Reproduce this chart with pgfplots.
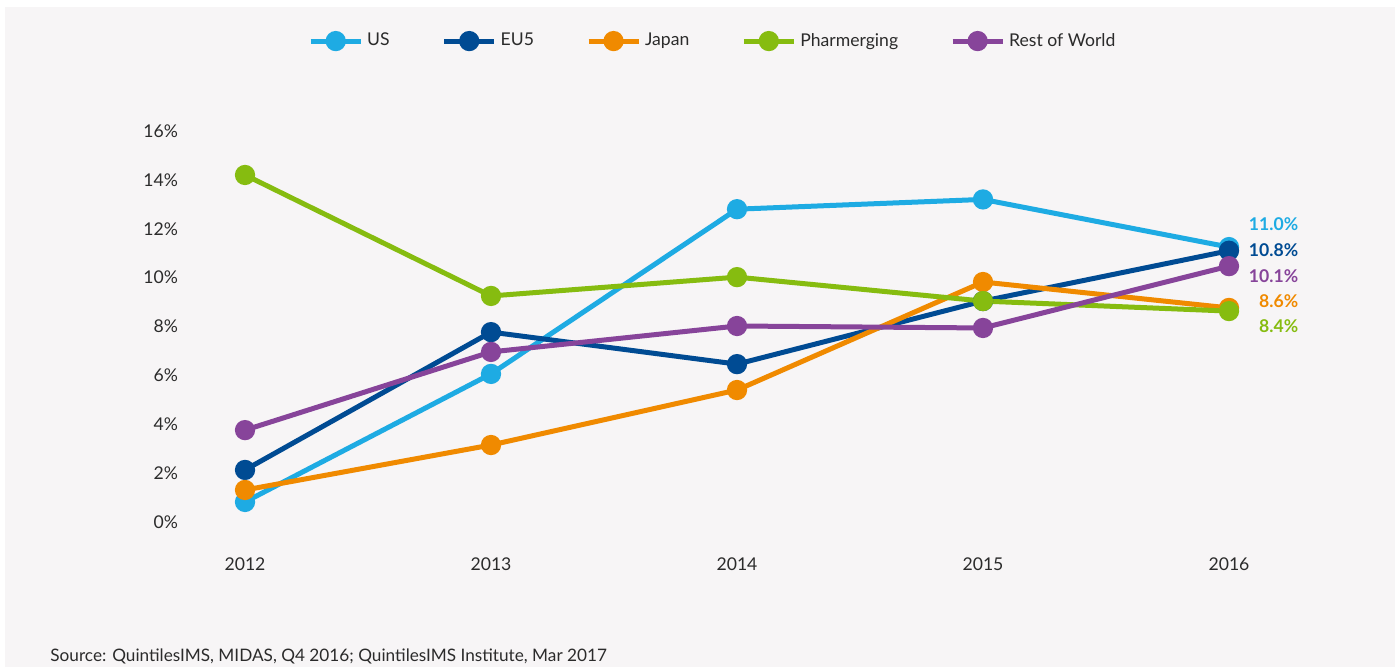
\documentclass[border=0pt]{standalone}
\usepackage{pgfplots}
\pgfplotsset{compat=1.18}
\usepackage{fontspec}
\setmainfont{Lato}
\definecolor{bg}{HTML}{F7F5F6}
\definecolor{cUS}{HTML}{1EABE3}
\definecolor{cEU}{HTML}{004B93}
\definecolor{cJP}{HTML}{F08A00}
\definecolor{cPH}{HTML}{86BC10}
\definecolor{cRW}{HTML}{87449A}
\definecolor{txt}{HTML}{2B2B2B}
\begin{document}
\begin{tikzpicture}
\path[use as bounding box] (-92.5pt,-72.5pt) rectangle (607.5pt,261pt);
\fill[bg] (-90pt,-72.5pt) rectangle (605pt,257.5pt);
\begin{axis}[
  at={(0,0)}, anchor=south west,
  scale only axis, width=552pt, height=195.5pt,
  xmin=2011.756, xmax=2016.244, ymin=0, ymax=16,
  clip=false, axis line style={draw=none},
  xtick={2012,2013,2014,2015,2016},
  ytick={0,2,4,6,8,10,12,14,16},
  xticklabel={\pgfmathprintnumber[1000 sep={}]{\tick}},
  yticklabel={\pgfmathprintnumber{\tick}\%},
  /pgf/number format/assume math mode=true,
  xticklabel style={yshift=-14.5pt, font=\fontsize{8.8}{10}\selectfont, text=txt},
  yticklabel style={font=\fontsize{8.8}{10}\selectfont, text=txt},
  major tick length=0pt, tick style={draw=none},
  every axis plot/.append style={line width=2.5pt, mark=*, mark size=3.8pt},
  legend columns=5,
  legend style={at={(0.479,1.23)}, anchor=center, draw=none, fill=none,
    font=\fontsize{8.8}{10}\selectfont, text=txt,
    /tikz/every even column/.append style={column sep=24pt}},
  legend cell align=left,
  legend image code/.code={\draw[mark repeat=2, mark phase=2, #1] plot coordinates {(0pt,0pt) (12.5pt,0pt) (25pt,0pt)};},
]
\addplot[cUS, mark options={fill=cUS, draw=cUS}] coordinates {(2012,0.82) (2013,6.06) (2014,12.8) (2015,13.2) (2016,11.25)};
\addlegendentry{US}
\addplot[cEU, mark options={fill=cEU, draw=cEU}] coordinates {(2012,2.13) (2013,7.77) (2014,6.46) (2015,9.04) (2016,11.1)};
\addlegendentry{EU5}
\addplot[cJP, mark options={fill=cJP, draw=cJP}] coordinates {(2012,1.31) (2013,3.15) (2014,5.4) (2015,9.82) (2016,8.76)};
\addlegendentry{Japan}
\addplot[cPH, mark options={fill=cPH, draw=cPH}] coordinates {(2012,14.2) (2013,9.25) (2014,10.02) (2015,9.04) (2016,8.63)};
\addlegendentry{Pharmerging}
\addplot[cRW, mark options={fill=cRW, draw=cRW}] coordinates {(2012,3.76) (2013,6.96) (2014,8.02) (2015,7.94) (2016,10.47)};
\addlegendentry{Rest of World}
\node[anchor=east, text=cUS, font=\bfseries\fontsize{8.8}{10}\selectfont] at (axis cs:2016.31,12.19) {11.0\%};
\node[anchor=east, text=cEU, font=\bfseries\fontsize{8.8}{10}\selectfont] at (axis cs:2016.31,11.13) {10.8\%};
\node[anchor=east, text=cRW, font=\bfseries\fontsize{8.8}{10}\selectfont] at (axis cs:2016.31,10.07) {10.1\%};
\node[anchor=east, text=cJP, font=\bfseries\fontsize{8.8}{10}\selectfont] at (axis cs:2016.31,9.04) {8.6\%};
\node[anchor=east, text=cPH, font=\bfseries\fontsize{8.8}{10}\selectfont] at (axis cs:2016.31,8.02) {8.4\%};
\end{axis}
\node[anchor=west, inner sep=0pt, text=txt, font=\fontsize{8.6}{10}\selectfont] at (-67.5pt,-67pt) {Source: QuintilesIMS, MIDAS, Q4 2016; QuintilesIMS Institute, Mar 2017};
\end{tikzpicture}
\end{document}
